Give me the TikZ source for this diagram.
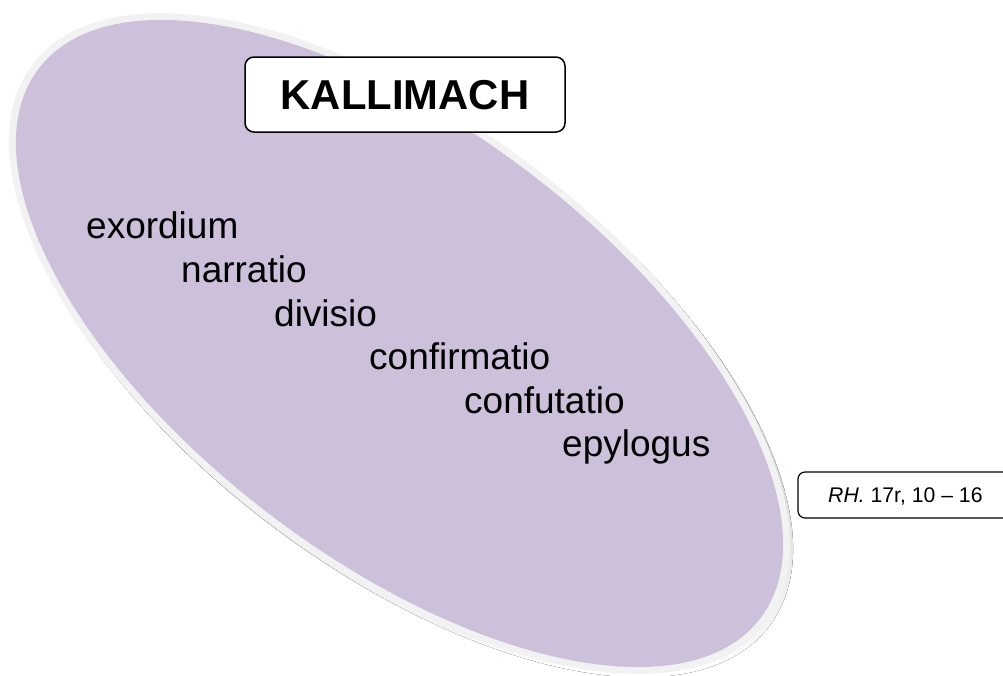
\documentclass[tikz,border=0pt]{standalone}
\usepackage{fontspec}
\setmainfont{Liberation Sans}
\definecolor{lav}{HTML}{CCC0DA}
\definecolor{rim}{HTML}{F2F2F2}
\definecolor{shade}{HTML}{B89494}
\begin{document}
\begin{tikzpicture}[x=1pt,y=-1pt,
  item/.style={anchor=base west, inner sep=0pt, font=\fontsize{37}{42}\selectfont},
  titlebox/.style={draw=black, fill=white, line width=1.5pt, rounded corners=9pt,
    minimum width=320pt, minimum height=75pt, inner sep=0pt,
    text height=29.7pt, text depth=0pt, font=\bfseries\fontsize{41.8}{46}\selectfont},
  refframe/.style={draw=black, fill=white, line width=1.2pt, rounded corners=7pt},
  reftext/.style={anchor=west, inner xsep=30pt, inner ysep=0pt,
    text height=15.2pt, text depth=0pt, font=\fontsize{21.2}{25}\selectfont}]
\useasboundingbox (0,0) rectangle (1003,675);
\clip (0,0) rectangle (1003,675);
% tilted oval: shadow, pale rim, lavender body
\coordinate (c) at (399.5,343.5);
\coordinate (cs) at (402.5,347);
\fill[shade, rotate around={-37.3:(cs)}] (cs) ellipse [x radius=461, y radius=221.5];
\fill[rim, rotate around={-37.3:(c)}] (c) ellipse [x radius=461, y radius=221.5];
\fill[lav, rotate around={-37.3:(c)}] (c) ellipse [x radius=453.6, y radius=214.5];
% title
\node[titlebox] (title) at (405,94.5) {KALLIMACH};
% parts of the speech
\node[item] (exordium) at (86,238) {exordium};
\node[item] (narratio) at (181,282) {narratio};
\node[item] (divisio) at (274,326) {divisio};
\node[item] (confirmatio) at (369,369.5) {confirmatio};
\node[item] (confutatio) at (464,413) {confutatio};
\node[item] (epylogus) at (562,456.5) {epylogus};
% source reference; its frame runs on past the right edge
\path[refframe] (1040,472) -- (798,472) -- (798,518) -- (1040,518);
\node[reftext] (source) at (798,495) {\textit{RH.} 17r, 10 – 16};
\end{tikzpicture}
\end{document}
